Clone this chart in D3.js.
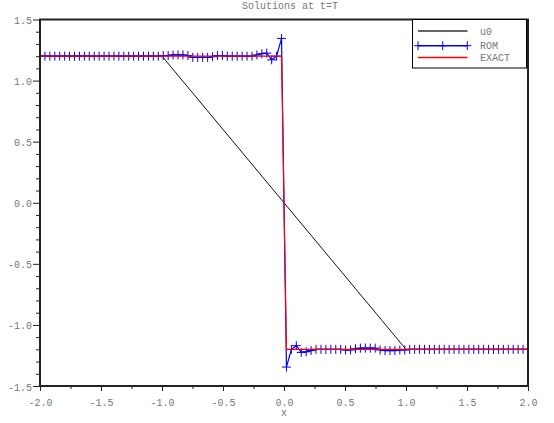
<!DOCTYPE html>
<html>
<head>
<meta charset="utf-8">
<script src="https://cdn.jsdelivr.net/npm/d3@7"></script>
<style>
html,body{margin:0;padding:0;background:#fff;}
svg{display:block;}
text{font-family:"Liberation Mono","DejaVu Sans Mono",monospace;}
</style>
</head>
<body>
<svg id="chart" width="554" height="423"></svg>
<script>
// ---- data ----
const title = "Solutions at t=T";
const xLabel = "x";
const xTicksMajor = [-2.0, -1.5, -1.0, -0.5, 0.0, 0.5, 1.0, 1.5, 2.0];
const xTicksMinor = [-1.75, -1.25, -0.75, -0.25, 0.25, 0.75, 1.25, 1.75];
const yTicksMajor = [-1.5, -1.0, -0.5, 0.0, 0.5, 1.0, 1.5];
const yTicksMinor = [-1.4,-1.3,-1.2,-1.1,-0.9,-0.8,-0.7,-0.6,-0.4,-0.3,-0.2,-0.1,
                     0.1,0.2,0.3,0.4,0.6,0.7,0.8,0.9,1.1,1.2,1.3,1.4];
const legendNames = ["u0", "ROM", "EXACT"];

// u0 initial condition (breakpoints)
const u0X = [-2, -1, 1, 2];
const u0Y = [1.2, 1.2, -1.2, -1.2];

// exact solution (breakpoints on the grid)
const exactX = [-2, -0.0202, 0.0202, 2];
const exactY = [1.2, 1.2, -1.2, -1.2];

// ROM solution on 100 grid points from -2 to 2
const romY = [
  1.2,1.2,1.2,1.2,1.2,1.2,1.2,1.2,1.2,1.2,
  1.2,1.2,1.2,1.2,1.2,1.2,1.2,1.2,1.2,1.2,
  1.2,1.2,1.2,1.2,1.2,1.205,1.205,1.21,1.21,1.21,
  1.205,1.19,1.19,1.19,1.19,1.195,1.205,1.205,1.2,1.2,
  1.2,1.2,1.2,1.2,1.21,1.22,1.225,1.17,1.2,1.345,
  -1.345,-1.2,-1.17,-1.225,-1.22,-1.21,-1.2,-1.2,-1.2,-1.2,
  -1.2,-1.2,-1.205,-1.205,-1.195,-1.19,-1.19,-1.19,-1.19,-1.205,
  -1.21,-1.21,-1.21,-1.205,-1.205,-1.2,-1.2,-1.2,-1.2,-1.2,
  -1.2,-1.2,-1.2,-1.2,-1.2,-1.2,-1.2,-1.2,-1.2,-1.2,
  -1.2,-1.2,-1.2,-1.2,-1.2,-1.2,-1.2,-1.2,-1.2,-1.2
];
const romX = d3.range(romY.length).map(i => -2 + i * 4 / (romY.length - 1));

// ---- layout ----
const L = 40, R = 528, T = 19.5, B = 386;
const svg = d3.select("#chart");
const x = d3.scaleLinear().domain([-2, 2]).range([L, R]);
const y = d3.scaleLinear().domain([-1.5, 1.5]).range([B, T]);
const fmt = d => d.toFixed(1);
const textCol = "#777";

// title
svg.append("text").attr("x", 290).attr("y", 9).attr("text-anchor", "middle")
  .attr("font-size", 10).attr("fill", textCol).text(title);

// axes
const gx = svg.append("g").attr("transform", `translate(0,${B})`);
gx.call(d3.axisBottom(x).tickValues(xTicksMajor).tickFormat(fmt).tickSize(5).tickPadding(8));
const gxm = svg.append("g").attr("transform", `translate(0,${B})`);
gxm.call(d3.axisBottom(x).tickValues(xTicksMinor).tickFormat("").tickSize(3));
const gy = svg.append("g").attr("transform", `translate(${L},0)`);
gy.call(d3.axisLeft(y).tickValues(yTicksMajor).tickFormat(fmt).tickSize(7).tickPadding(1));
const gym = svg.append("g").attr("transform", `translate(${L},0)`);
gym.call(d3.axisLeft(y).tickValues(yTicksMinor).tickFormat("").tickSize(4));
[gx, gxm, gy, gym].forEach(g => {
  g.select(".domain").remove();
  g.selectAll("line").attr("stroke", "#222");
  g.selectAll("text").attr("fill", textCol).attr("font-size", 10)
    .attr("font-family", '"Liberation Mono","DejaVu Sans Mono",monospace');
});
gy.selectAll("text").attr("dy", "0.4em");

svg.append("text").attr("x", x(0)).attr("y", 416).attr("text-anchor", "middle")
  .attr("font-size", 10).attr("fill", textCol).text(xLabel);

// plot clip
svg.append("clipPath").attr("id", "clip").append("rect")
  .attr("x", L).attr("y", T).attr("width", R - L).attr("height", B - T);
const plot = svg.append("g").attr("clip-path", "url(#clip)");

const line = d3.line().x(d => x(d[0])).y(d => y(d[1]));

// u0
plot.append("path").datum(d3.zip(u0X, u0Y)).attr("d", line)
  .attr("fill", "none").attr("stroke", "#111").attr("stroke-width", 1);

// ROM
const romPts = d3.zip(romX, romY);
plot.append("path").datum(romPts).attr("d", line)
  .attr("fill", "none").attr("stroke", "#0000ff").attr("stroke-width", 1.2);
const cross = 4.5;
plot.append("g").selectAll("path").data(romPts).join("path")
  .attr("d", d => `M${x(d[0]) - cross},${y(d[1])}H${x(d[0]) + cross}M${x(d[0])},${y(d[1]) - cross}V${y(d[1]) + cross}`)
  .attr("stroke", "#0000ff").attr("stroke-width", 1).attr("fill", "none");

// EXACT
plot.append("path").datum(d3.zip(exactX, exactY)).attr("d", line)
  .attr("fill", "none").attr("stroke", "#ff0000").attr("stroke-width", 1.2);

// frame
svg.append("rect").attr("x", L).attr("y", T).attr("width", R - L).attr("height", B - T)
  .attr("fill", "none").attr("stroke", "#222").attr("stroke-width", 2);

// legend
const lg = svg.append("g");
lg.append("rect").attr("x", 412.5).attr("y", T).attr("width", 114).attr("height", 48.5)
  .attr("fill", "#fff").attr("stroke", "#000").attr("stroke-width", 1);
const legY = [31, 45.7, 57.5];
const legCol = ["#333", "#0000ff", "#ff0000"];
legendNames.forEach((name, i) => {
  lg.append("line").attr("x1", 418).attr("x2", 467.5).attr("y1", legY[i]).attr("y2", legY[i])
    .attr("stroke", legCol[i]).attr("stroke-width", 1.5);
  lg.append("text").attr("x", 480).attr("y", legY[i] + 3.5).attr("font-size", 10)
    .attr("fill", textCol).text(name);
});
[418, 442.7, 467.3].forEach(cx => {
  lg.append("path").attr("d", `M${cx - 4},${legY[1]}H${cx + 4}M${cx},${legY[1] - 4.5}V${legY[1] + 4.5}`)
    .attr("stroke", "#0000ff").attr("stroke-width", 1);
});
// redraw right frame edge over legend
svg.append("line").attr("x1", R).attr("x2", R).attr("y1", T).attr("y2", B)
  .attr("stroke", "#222").attr("stroke-width", 2);
</script>
</body>
</html>
